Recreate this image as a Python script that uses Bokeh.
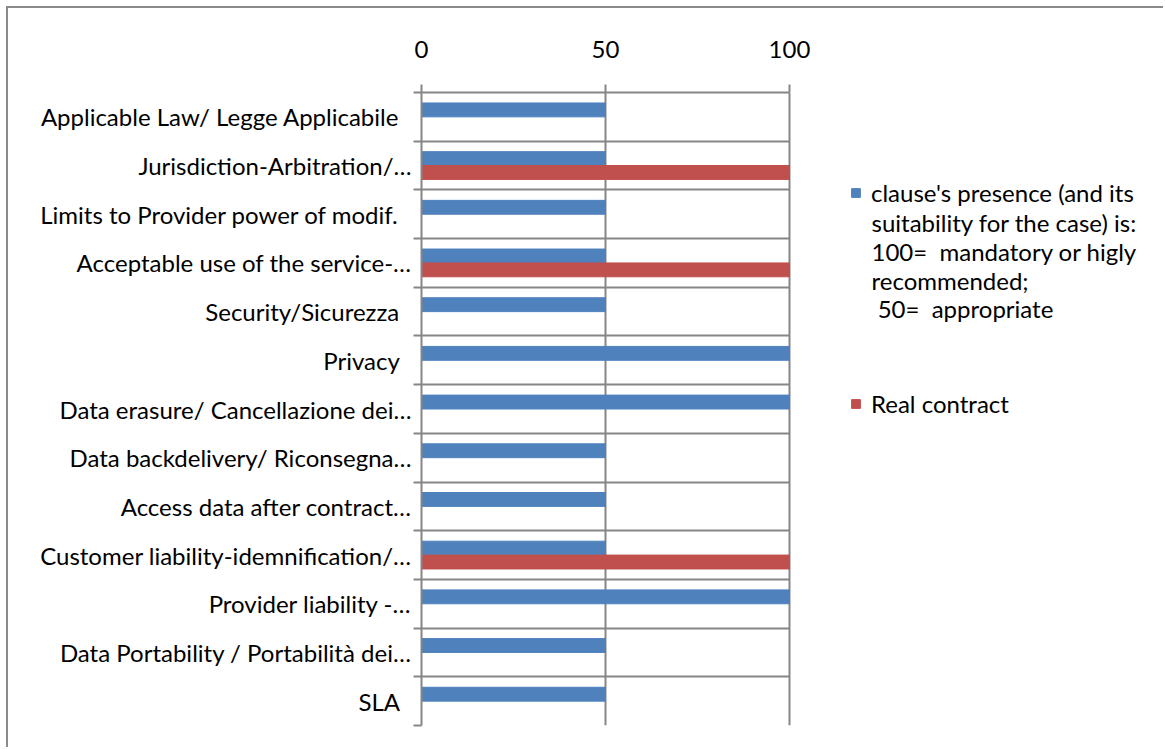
from bokeh.plotting import figure
from bokeh.models import (ColumnDataSource, Range1d, LinearAxis, FixedTicker,
                          Legend, LegendItem, Label)
from bokeh.embed import file_html
from bokeh.resources import INLINE

# Contract clauses, listed top to bottom
categories = [
    "Applicable Law/ Legge Applicabile",
    "Jurisdiction-Arbitration/…",
    "Limits to Provider power of modif.",
    "Acceptable use of the service-…",
    "Security/Sicurezza",
    "Privacy",
    "Data erasure/ Cancellazione dei…",
    "Data backdelivery/ Riconsegna…",
    "Access data after contract…",
    "Customer liability-idemnification/…",
    "Provider liability -…",
    "Data Portability / Portabilità dei…",
    "SLA",
]
suitability = [50, 50, 50, 50, 50, 100, 100, 50, 50, 50, 100, 50, 50]
real_contract = [0, 100, 0, 100, 0, 0, 0, 0, 0, 100, 0, 0, 0]
x_ticks = [0, 50, 100]

series_labels = [
    "clause's presence (and its",
    "Real contract",
]
series_note = ("suitability for the case) is:\n"
               "100=\u00a0 mandatory or higly\n"
               "recommended;\n"
               "\u00a050=\u00a0 appropriate")

FONT = "Lato"
FS = "24px"
GRID = "#868686"
BLUE = "#4F81BD"
RED = "#C0504D"

W, H = 1157, 741
BORDER_L, BORDER_R, BORDER_T, BORDER_B = 413, 2, 84, 24
VALUE_PX = 368          # pixel width of the 0..100 value span
frame_w = W - BORDER_L - BORDER_R
frame_h = H - BORDER_T - BORDER_B
x_end = 100 * frame_w / VALUE_PX   # room on the right for the legend

n = len(categories)
# first clause at the top: slot centres run from n-0.5 down to 0.5
centres = [n - 0.5 - i for i in range(n)]
bounds = list(range(n + 1))
BAR_H = 0.285
OFF = BAR_H / 2

src = ColumnDataSource(dict(
    cat=categories, s=suitability, r=real_contract,
    y_s=[c + OFF for c in centres], y_r=[c - OFF for c in centres],
))

p = figure(
    width=W, height=H,
    y_range=Range1d(0, n), x_range=Range1d(0, x_end),
    x_axis_location="above", y_axis_location=None,
    output_backend="svg", toolbar_location=None,
    min_border_left=BORDER_L, min_border_right=BORDER_R,
    min_border_top=BORDER_T, min_border_bottom=BORDER_B,
    margin=(6, 0, 0, 6),
    styles={"border-top": "2px solid #8a8a8a", "border-left": "2px solid #8a8a8a"},
)
p.outline_line_color = None
p.background_fill_color = "white"
p.border_fill_color = "white"


def label_text(name):
    # names that are not cut short keep some trailing room
    return name if name.endswith("…") else name + "\u00a0\u00a0"


# clause names at the slot centres, short ticks on the slot boundaries
cat_axis = LinearAxis(
    ticker=FixedTicker(ticks=centres, minor_ticks=bounds),
    major_label_overrides={c: label_text(name) for c, name in zip(centres, categories)},
    axis_line_color=GRID, axis_line_width=2,
    major_tick_line_color=None, major_tick_out=0, major_tick_in=0,
    minor_tick_line_color=GRID, minor_tick_line_width=2,
    minor_tick_out=8, minor_tick_in=0,
    major_label_standoff=2,
    major_label_text_font=FONT, major_label_text_font_size=FS,
    major_label_text_color="black",
)
p.add_layout(cat_axis, "left")

xa = p.xaxis[0]
xa.ticker = FixedTicker(ticks=x_ticks)
xa.bounds = (0, 100)
xa.major_tick_out = 8
xa.major_tick_in = 0
xa.minor_tick_line_color = None
xa.axis_line_color = GRID
xa.axis_line_width = 2
xa.major_tick_line_color = GRID
xa.major_tick_line_width = 2
xa.major_label_standoff = 27
xa.major_label_text_font = FONT
xa.major_label_text_font_size = FS
xa.major_label_text_color = "black"

p.xgrid.ticker = FixedTicker(ticks=x_ticks)
p.xgrid.grid_line_color = GRID
p.xgrid.grid_line_width = 2
p.ygrid.ticker = FixedTicker(ticks=bounds)
p.ygrid.cross_bounds = (0, 100)
p.ygrid.grid_line_color = GRID
p.ygrid.grid_line_width = 2

blue = p.hbar(y="y_s", left=0, right="s", height=BAR_H, color=BLUE, source=src)
red = p.hbar(y="y_r", left=0, right="r", height=BAR_H, color=RED, source=src)

# legend to the right of the value span
LEG_X = 429            # px from the frame's left edge
LEG_Y = 307            # px from the frame's bottom edge
LINE = 28.8            # text line height in px
legend = Legend(
    items=[LegendItem(label=series_labels[0], renderers=[blue]),
           LegendItem(label=series_labels[1], renderers=[red])],
    location=(LEG_X, LEG_Y),
    border_line_color=None, background_fill_alpha=0,
    label_text_font=FONT, label_text_font_size=FS, label_text_color="black",
    glyph_width=11, glyph_height=11, label_standoff=10,
    spacing=182, padding=0, margin=0,
)
p.add_layout(legend, "center")

# continuation lines of the first legend entry
px_x = x_end / frame_w
px_y = n / frame_h
note = Label(
    x=(LEG_X + 21) * px_x, y=n - (222 - 92 - LINE / 2) * px_y,
    text=series_note, text_font=FONT, text_font_size=FS, text_color="black",
    text_baseline="top", text_align="left", text_line_height=0.99,
)
p.add_layout(note)

open("out.html", "w").write(file_html(p, INLINE))
